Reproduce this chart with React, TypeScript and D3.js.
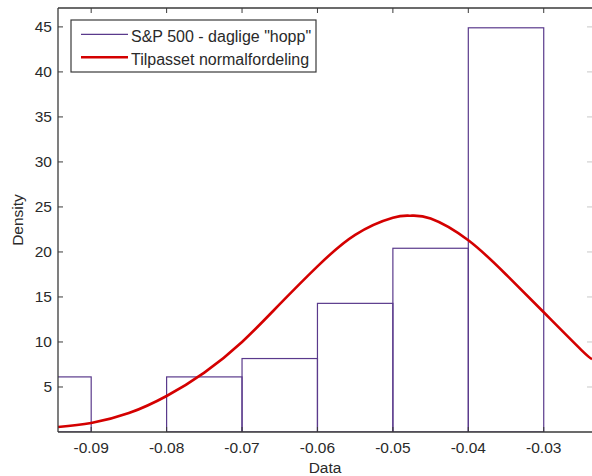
import React from "react";
import * as d3 from "d3";

// histogram bins (edges) and density per bin
const binEdges = [-0.1, -0.09, -0.08, -0.07, -0.06, -0.05, -0.04, -0.03];
const binDensity = [6.12, 0, 6.12, 8.16, 14.29, 20.41, 44.9];

// fitted normal curve
const fitX = [-0.0944, -0.09, -0.085, -0.08, -0.075, -0.07, -0.065, -0.06, -0.055, -0.05, -0.0477, -0.045, -0.04, -0.035, -0.03, -0.025, -0.0236];
const fitY = [0.55, 1.0, 2.1, 4.0, 6.6, 10.0, 14.2, 18.4, 21.9, 23.8, 24.03, 23.72, 21.3, 17.5, 13.3, 9.1, 8.1];

const xTicks = [-0.09, -0.08, -0.07, -0.06, -0.05, -0.04, -0.03];
const yTicks = [5, 10, 15, 20, 25, 30, 35, 40, 45];

const legendLabels = ['S&P 500 - daglige "hopp"', "Tilpasset normalfordeling"];

const W = 592, H = 476;
const m = { left: 58, top: 8, right: 593, bottom: 432 };
const axisColor = "#3a3a3a";
const barColor = "#5a3a8c";
const fitColor = "#d40000";
const textColor = "#2a2a2a";
const font = "'Liberation Sans', Arial, sans-serif";
const fs = 15.5;

export default function App() {
  const x = d3.scaleLinear().domain([-0.0944, -0.0236]).range([m.left, 592]);
  const y = d3.scaleLinear().domain([0, 47.1]).range([m.bottom, m.top]);

  const line = d3
    .line<number>()
    .x((_, i) => x(fitX[i]))
    .y((d) => y(d))
    .curve(d3.curveNatural);

  const tick = 5;

  return (
    <svg width={W} height={H} style={{ position: "absolute", left: 0, top: 0, background: "#fff" }}>
      <defs>
        <clipPath id="plot">
          <rect x={m.left} y={m.top} width={m.right - m.left} height={m.bottom - m.top} />
        </clipPath>
      </defs>
      <rect x={m.left} y={m.top} width={m.right - m.left} height={m.bottom - m.top} fill="#fff" />

      <g clipPath="url(#plot)">
        {binDensity.map((d, i) =>
          d > 0 ? (
            <rect
              key={i}
              x={x(binEdges[i])}
              y={y(d)}
              width={x(binEdges[i + 1]) - x(binEdges[i])}
              height={y(0) - y(d)}
              fill="none"
              stroke={barColor}
              strokeWidth={1.2}
            />
          ) : null
        )}
        <path d={line(fitY) || ""} fill="none" stroke={fitColor} strokeWidth={2.6} />
      </g>

      {/* axes box */}
      <line x1={m.left} x2={m.right} y1={m.top} y2={m.top} stroke={axisColor} strokeWidth={1.3} />
      <line x1={m.left} x2={m.left} y1={m.top} y2={m.bottom} stroke={axisColor} strokeWidth={1.3} />
      <line x1={m.left} x2={m.right} y1={m.bottom} y2={m.bottom} stroke={axisColor} strokeWidth={1.3} />

      {xTicks.map((t) => (
        <g key={t}>
          <line x1={x(t)} x2={x(t)} y1={m.bottom} y2={m.bottom - tick} stroke={axisColor} />
          <line x1={x(t)} x2={x(t)} y1={m.top} y2={m.top + tick} stroke={axisColor} />
          <text x={x(t)} y={453} textAnchor="middle" fontSize={fs} fontFamily={font} fill={textColor}>
            {t.toFixed(2)}
          </text>
        </g>
      ))}

      {yTicks.map((t) => (
        <g key={t}>
          <line x1={m.left} x2={m.left + tick} y1={y(t)} y2={y(t)} stroke={axisColor} />
          <line x1={587} x2={592} y1={y(t)} y2={y(t)} stroke="#c8c8c8" />
          <text x={52} y={y(t) + 5.5} textAnchor="end" fontSize={fs} fontFamily={font} fill={textColor}>
            {t}
          </text>
        </g>
      ))}

      <text x={325} y={473} textAnchor="middle" fontSize={fs} fontFamily={font} fill={textColor}>
        Data
      </text>
      <text
        transform={`translate(22.5,${(m.top + m.bottom) / 2}) rotate(-90)`}
        textAnchor="middle"
        fontSize={fs}
        fontFamily={font}
        fill={textColor}
      >
        Density
      </text>

      {/* legend */}
      <g>
        <rect x={71} y={20} width={245} height={52} fill="#fff" stroke={axisColor} strokeWidth={1.2} />
        <line x1={81} x2={128} y1={34.3} y2={34.3} stroke={barColor} strokeWidth={1.2} />
        <text x={131} y={41.5} fontSize={16} fontFamily={font} fill={textColor}>
          {legendLabels[0]}
        </text>
        <line x1={81} x2={128} y1={57.3} y2={57.3} stroke={fitColor} strokeWidth={2.6} />
        <text x={131} y={64.5} fontSize={16} fontFamily={font} fill={textColor}>
          {legendLabels[1]}
        </text>
      </g>
    </svg>
  );
}
